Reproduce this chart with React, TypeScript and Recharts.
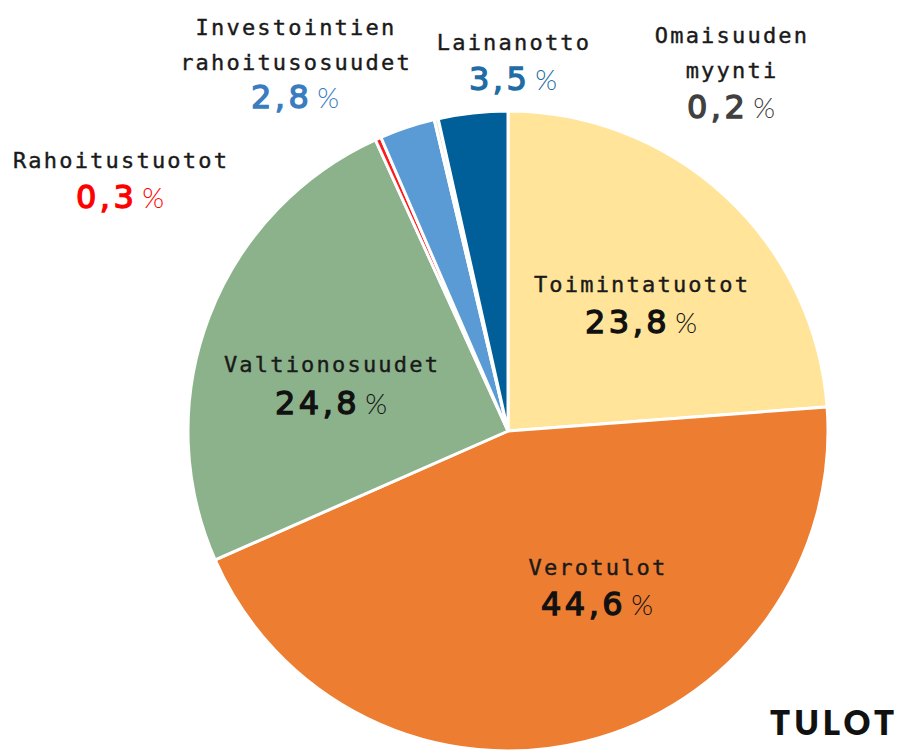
import { PieChart, Pie, Cell } from "recharts";

const CATEGORIES = [
  "Toimintatuotot",
  "Verotulot",
  "Valtionosuudet",
  "Rahoitustuotot",
  "Investointien rahoitusosuudet",
  "Omaisuuden myynti",
  "Lainanotto",
];
const SHARES = [23.8, 44.6, 24.8, 0.3, 2.8, 0.2, 3.5];
const SHARE_TEXT = ["23,8", "44,6", "24,8", "0,3", "2,8", "0,2", "3,5"];
// label name split into lines
const NAME_LINES = [
  ["Toimintatuotot"],
  ["Verotulot"],
  ["Valtionosuudet"],
  ["Rahoitustuotot"],
  ["Investointien", "rahoitusosuudet"],
  ["Omaisuuden", "myynti"],
  ["Lainanotto"],
];

const SLICE_COLORS = ["#FFE49A", "#ED7D31", "#8BB28B", "#FF1A1A", "#5B9BD5", "#DCE9D2", "#005F98"];
const VALUE_COLORS = ["#111111", "#111111", "#111111", "#FF0000", "#3A7CC0", "#404040", "#1F6CA6"];

// label anchor: x centre, baseline of first name line, baseline of number
const LABEL_POS: { x: number; y: number; ny: number }[] = [
  { x: 641, y: 292, ny: 333 },
  { x: 597, y: 575, ny: 615 },
  { x: 331, y: 372, ny: 414 },
  { x: 120, y: 168, ny: 208 },
  { x: 295, y: 35, ny: 108 },
  { x: 731, y: 43, ny: 118 },
  { x: 513, y: 50, ny: 90 },
];

const NAME_FONT = "'DejaVu Sans Mono', monospace";
const NUM_FONT = "'DejaVu Sans', sans-serif";

const data = CATEGORIES.map((name, i) => ({ name, value: SHARES[i] }));

function renderLabel(props: any) {
  const i = props.index;
  const pos = LABEL_POS[i];
  const lines = NAME_LINES[i];
  const c = VALUE_COLORS[i];
  return (
    <g key={`lbl-${i}`}>
      {lines.map((line, k) => (
        <text
          key={k}
          x={pos.x + 1}
          y={pos.y + k * 35}
          textAnchor="middle"
          fontFamily={NAME_FONT}
          fontSize={22}
          letterSpacing={2.2}
          fill="#1a1a1a"
          stroke="#1a1a1a"
          strokeWidth={0.4}
        >
          {line}
        </text>
      ))}
      <text x={pos.x} y={pos.ny} textAnchor="middle" fontFamily={NUM_FONT} fill={c}>
        <tspan fontSize={32} fontWeight={400} letterSpacing={3.5} stroke={c} strokeWidth={1.3}>
          {SHARE_TEXT[i]}
        </tspan>
        <tspan fontFamily="Lato, sans-serif" fontSize={28} fontWeight={300} dx={5}>
          %
        </tspan>
      </text>
    </g>
  );
}

export default function App() {
  return (
    <div
      style={{
        position: "absolute",
        left: 0,
        top: 0,
        width: 908,
        height: 752,
        background: "#fff",
      }}
    >
      <PieChart width={908} height={752} margin={{ top: 0, right: 0, bottom: 0, left: 0 }}>
        <Pie
          data={data}
          dataKey="value"
          nameKey="name"
          cx={508}
          cy={431}
          outerRadius={320}
          startAngle={90}
          endAngle={-270}
          stroke="#ffffff"
          strokeWidth={3}
          label={renderLabel}
          labelLine={false}
          isAnimationActive={false}
        >
          {data.map((_, index) => (
            <Cell key={`cell-${index}`} fill={SLICE_COLORS[index]} />
          ))}
        </Pie>
        <text
          x={898}
          y={735}
          textAnchor="end"
          fontFamily="Lato, sans-serif"
          fontSize={33}
          fontWeight={800}
          letterSpacing={4}
          fill="#111"
        >
          TULOT
        </text>
      </PieChart>
    </div>
  );
}
